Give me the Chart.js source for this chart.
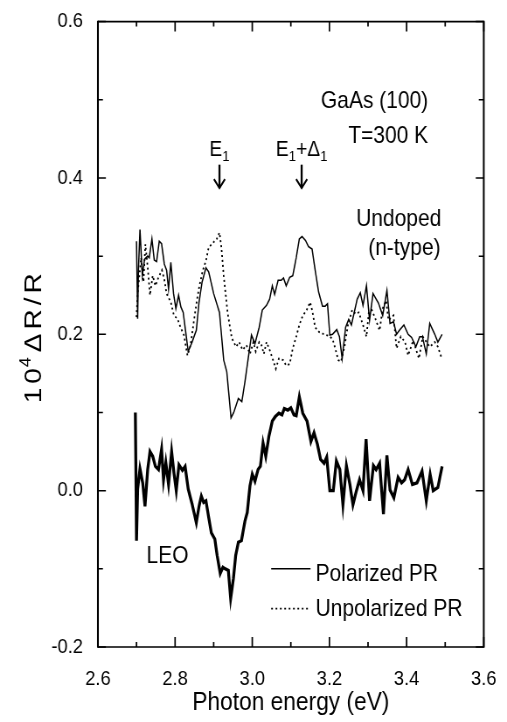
<!DOCTYPE html>
<html><head><meta charset="utf-8">
<script src="https://cdn.jsdelivr.net/npm/chart.js@4.4.0/dist/chart.umd.min.js"></script>
<style>
html,body{margin:0;padding:0;overflow:hidden;background:#fff;width:507px;height:722px}
#c{display:block;width:580px;height:722px;transform:scaleX(0.87414);transform-origin:0 0}
</style></head><body>
<canvas id="c" width="580" height="722"></canvas>
<script>
// ---- data (photon energy in eV, 10^4 dR/R) ----
const polE=[2.700,2.703,2.705,2.709,2.715,2.721,2.729,2.733,2.740,2.746,2.752,2.759,2.765,2.772,2.778,2.783,2.789,2.796,2.802,2.809,2.815,2.821,2.827,2.834,2.844,2.855,2.862,2.870,2.880,2.887,2.900,2.915,2.926,2.934,2.940,2.945,2.952,2.964,2.973,2.981,2.998,3.007,3.018,3.026,3.037,3.045,3.052,3.058,3.067,3.075,3.081,3.088,3.097,3.105,3.114,3.122,3.129,3.138,3.146,3.155,3.163,3.172,3.182,3.189,3.195,3.201,3.208,3.219,3.226,3.233,3.242,3.250,3.257,3.272,3.280,3.287,3.296,3.304,3.313,3.327,3.338,3.349,3.357,3.366,3.374,3.383,3.393,3.404,3.413,3.424,3.434,3.441,3.451,3.460,3.473,3.481,3.492];
const polR=[0.319,0.220,0.282,0.334,0.275,0.296,0.300,0.298,0.322,0.295,0.293,0.319,0.316,0.290,0.282,0.258,0.292,0.252,0.233,0.250,0.235,0.228,0.205,0.178,0.190,0.205,0.241,0.267,0.285,0.280,0.252,0.228,0.167,0.152,0.120,0.093,0.100,0.118,0.114,0.139,0.199,0.188,0.209,0.231,0.237,0.245,0.262,0.251,0.269,0.269,0.272,0.262,0.273,0.275,0.298,0.322,0.325,0.320,0.312,0.309,0.282,0.254,0.236,0.236,0.239,0.199,0.200,0.206,0.197,0.169,0.209,0.219,0.212,0.245,0.253,0.237,0.262,0.218,0.252,0.240,0.224,0.256,0.214,0.216,0.200,0.206,0.212,0.200,0.196,0.184,0.197,0.197,0.175,0.214,0.200,0.190,0.200];

const unpolE=[2.700,2.703,2.712,2.718,2.723,2.729,2.735,2.742,2.749,2.757,2.766,2.772,2.778,2.789,2.797,2.806,2.814,2.823,2.832,2.840,2.849,2.857,2.863,2.872,2.880,2.887,2.900,2.908,2.915,2.920,2.926,2.936,2.947,2.958,2.966,2.975,2.985,2.994,3.003,3.009,3.018,3.024,3.030,3.037,3.045,3.054,3.061,3.069,3.080,3.088,3.097,3.105,3.114,3.122,3.131,3.141,3.150,3.156,3.163,3.173,3.186,3.199,3.208,3.215,3.223,3.230,3.239,3.248,3.259,3.268,3.276,3.287,3.296,3.302,3.310,3.319,3.330,3.338,3.347,3.353,3.366,3.374,3.385,3.396,3.404,3.417,3.432,3.442,3.460,3.473,3.481,3.492];
const unpolR=[0.222,0.252,0.298,0.267,0.315,0.286,0.250,0.275,0.262,0.273,0.282,0.270,0.252,0.241,0.224,0.220,0.209,0.199,0.173,0.186,0.218,0.245,0.262,0.282,0.294,0.311,0.318,0.322,0.330,0.311,0.275,0.228,0.195,0.184,0.190,0.180,0.186,0.175,0.190,0.178,0.190,0.186,0.175,0.190,0.180,0.167,0.156,0.169,0.167,0.160,0.162,0.182,0.197,0.212,0.224,0.231,0.241,0.229,0.209,0.203,0.200,0.198,0.194,0.182,0.167,0.165,0.184,0.212,0.231,0.226,0.228,0.212,0.197,0.228,0.231,0.220,0.205,0.233,0.243,0.218,0.224,0.182,0.197,0.190,0.173,0.192,0.169,0.197,0.184,0.190,0.184,0.168];

const leoE=[2.697,2.700,2.703,2.709,2.716,2.722,2.729,2.735,2.742,2.749,2.757,2.765,2.770,2.776,2.783,2.791,2.797,2.803,2.810,2.819,2.826,2.834,2.844,2.855,2.862,2.868,2.874,2.880,2.887,2.894,2.903,2.909,2.917,2.924,2.930,2.938,2.944,2.951,2.957,2.964,2.972,2.981,2.987,2.994,3.000,3.007,3.015,3.021,3.028,3.035,3.043,3.052,3.060,3.069,3.077,3.083,3.092,3.100,3.108,3.114,3.122,3.131,3.142,3.152,3.160,3.169,3.177,3.186,3.193,3.201,3.210,3.218,3.227,3.235,3.244,3.253,3.261,3.270,3.278,3.287,3.295,3.304,3.314,3.321,3.330,3.340,3.349,3.357,3.367,3.378,3.387,3.395,3.404,3.415,3.427,3.440,3.451,3.461,3.469,3.481,3.492];
const leoR=[0.100,-0.064,0.002,0.028,0.010,-0.020,0.027,0.050,0.044,0.031,0.027,0.053,0.014,0.036,0.008,0.050,0.023,0.000,0.033,0.026,0.031,0.002,-0.017,-0.041,-0.020,-0.007,-0.015,-0.013,-0.034,-0.054,-0.062,-0.083,-0.106,-0.098,-0.100,-0.102,-0.138,-0.113,-0.083,-0.066,-0.064,-0.039,-0.028,0.006,0.021,0.012,0.027,0.031,0.061,0.044,0.069,0.089,0.095,0.099,0.097,0.105,0.103,0.106,0.097,0.096,0.120,0.099,0.089,0.063,0.074,0.059,0.040,0.035,0.043,0.000,0.000,0.038,0.027,-0.018,0.032,0.008,-0.018,0.000,0.014,0.000,0.066,-0.013,0.032,0.027,0.035,-0.030,0.045,0.001,-0.009,0.017,0.010,0.014,0.027,0.008,0.010,0.025,-0.013,0.021,0.000,0.004,0.031];

const xTicks=[2.6,2.8,3.0,3.2,3.4,3.6];
const xTickLabels=['2.6','2.8','3.0','3.2','3.4','3.6'];
const xMinorTicks=[2.7,2.9,3.1,3.3,3.5];
const yTicks=[-0.2,0.0,0.2,0.4,0.6];
const yTickLabels=['-0.2','0.0','0.2','0.4','0.6'];
const yMinorTicks=[-0.1,0.1,0.3,0.5];
const seriesNames=['Polarized PR','Unpolarized PR'];

const SX=0.87414; // horizontal squeeze of the canvas (narrow type)
const FONT="'Liberation Sans', Arial, sans-serif";

function pts(E,R){return E.map((e,i)=>({x:e,y:R[i]}));}

const framePlugin={
  id:'frame',
  afterDraw(chart){
    const {ctx,chartArea:a,scales:{x,y}}=chart;
    ctx.save();
    ctx.strokeStyle='#000';
    ctx.lineWidth=1.7;
    ctx.beginPath();
    ctx.moveTo(a.left,a.top);ctx.lineTo(a.right,a.top);
    ctx.moveTo(a.left,a.bottom);ctx.lineTo(a.right,a.bottom);
    ctx.stroke();
    ctx.lineWidth=1.8/SX;
    ctx.beginPath();
    ctx.moveTo(a.left,a.top-0.85);ctx.lineTo(a.left,a.bottom+0.85);
    ctx.moveTo(a.right,a.top-0.85);ctx.lineTo(a.right,a.bottom+0.85);
    ctx.stroke();
    ctx.beginPath();
    ctx.lineWidth=1.5/SX;
    const xt=(v,len)=>{const p=x.getPixelForValue(v);ctx.moveTo(p,a.bottom);ctx.lineTo(p,a.bottom-len);ctx.moveTo(p,a.top);ctx.lineTo(p,a.top+len);};
    xTicks.forEach(v=>xt(v,10)); xMinorTicks.forEach(v=>xt(v,5));
    ctx.stroke();
    ctx.beginPath();
    ctx.lineWidth=1.5;
    const yt=(v,len)=>{const p=y.getPixelForValue(v);const l=len/SX;ctx.moveTo(a.left,p);ctx.lineTo(a.left+l,p);ctx.moveTo(a.right,p);ctx.lineTo(a.right-l,p);};
    yTicks.forEach(v=>yt(v,8)); yMinorTicks.forEach(v=>yt(v,5));
    ctx.stroke();
    ctx.restore();
  }
};

function drawPieces(ctx,pieces,x,y,align){
  let w=0;
  pieces.forEach(p=>{ctx.font=p.size+'px '+FONT;p.w=ctx.measureText(p.t).width+(p.sp||0);w+=p.w;});
  let cx = align==='center'? x-w/2 : (align==='right'? x-w : x);
  ctx.textAlign='left';
  pieces.forEach(p=>{ctx.font=p.size+'px '+FONT;ctx.fillText(p.t,cx,y+(p.dy||0));cx+=p.w;});
}

const annoPlugin={
  id:'anno',
  afterDraw(chart){
    const {ctx,chartArea:a,scales:{x,y}}=chart;
    const X=v=>x.getPixelForValue(v), Y=v=>y.getPixelForValue(v);
    ctx.save();
    ctx.fillStyle='#000'; ctx.strokeStyle='#000';
    ctx.textBaseline='alphabetic';
    ctx.font='24px '+FONT;
    ctx.textAlign='right';
    ctx.fillText('GaAs (100)',X(3.456),Y(0.49));
    ctx.fillText('T=300 K',X(3.456),Y(0.445));
    ctx.fillText('Undoped',X(3.49),Y(0.338));
    ctx.fillText('(n-type)',X(3.488),Y(0.302));
    ctx.textAlign='left';
    ctx.fillText('LEO',X(2.726),Y(-0.092));
    drawPieces(ctx,[{t:'E',size:22},{t:'1',size:15,dy:5}],X(2.915),Y(0.428),'center');
    drawPieces(ctx,[{t:'E',size:22},{t:'1',size:15,dy:5},{t:'+Δ',size:22},{t:'1',size:15,dy:5}],X(3.128),Y(0.428),'center');
    [2.915,3.128].forEach(e=>{
      const px=X(e), y0=Y(0.417), y1=Y(0.387);
      ctx.lineWidth=2/SX;
      ctx.beginPath();
      ctx.moveTo(px,y0);ctx.lineTo(px,y1);
      ctx.stroke();
      ctx.lineWidth=2;
      ctx.beginPath();
      ctx.moveTo(px-5.5/SX,y1-9);ctx.lineTo(px,y1);ctx.lineTo(px+5.5/SX,y1-9);
      ctx.stroke();
    });
    const ds=chart.data.datasets;
    [[0,-0.100,-0.115],[1,-0.151,-0.160]].forEach(([i,ly,ty])=>{
      const d=ds[i];
      ctx.lineWidth=d.borderWidth;
      ctx.setLineDash(d.borderDash||[]);
      ctx.beginPath();ctx.moveTo(X(3.049),Y(ly));ctx.lineTo(X(3.151),Y(ly));ctx.stroke();
      ctx.setLineDash([]);
      ctx.font='24px '+FONT;ctx.textAlign='left';
      ctx.fillText(d.label,X(3.164),Y(ty));
    });
    // y axis title
    ctx.translate(37,(a.top+a.bottom)/2+4);
    ctx.rotate(-Math.PI/2);
    drawPieces(ctx,[{t:'1',size:28,sp:4},{t:'0',size:28,sp:1},{t:'4',size:18,dy:-12,sp:5},{t:'Δ',size:28,sp:4},{t:'R',size:28,sp:4},{t:'/',size:28,sp:4},{t:'R',size:28}],0,10,'center');
    ctx.restore();
  }
};

new Chart(document.getElementById('c'),{
  type:'line',
  data:{datasets:[
    {label:seriesNames[0],data:pts(polE,polR),borderColor:'#000',borderWidth:1.5,pointRadius:0,tension:0,fill:false},
    {label:seriesNames[1],data:pts(unpolE,unpolR),borderColor:'#000',borderWidth:1.8,borderDash:[2,3],pointRadius:0,tension:0,fill:false},
    {label:'LEO',data:pts(leoE,leoR),borderColor:'#000',borderWidth:3.3,pointRadius:0,tension:0,fill:false}
  ]},
  options:{
    responsive:false,devicePixelRatio:1,animation:false,
    layout:{padding:{left:0,right:22,top:18,bottom:0}},
    plugins:{legend:{display:false},tooltip:{enabled:false}},
    scales:{
      x:{type:'linear',min:2.6,max:3.6,
        afterBuildTicks(s){s.ticks=xTicks.map(v=>({value:v}));},
        afterFit(s){s.height=75;},
        grid:{display:false},border:{display:false},
        ticks:{autoSkip:false,maxRotation:0,padding:12,color:'#000',font:{family:FONT,size:21},callback:(v,i)=>xTickLabels[i]},
        title:{display:true,text:'Photon energy (eV)',color:'#000',font:{family:FONT,size:26},padding:{top:0,bottom:4}}
      },
      y:{type:'linear',min:-0.2,max:0.6,
        afterBuildTicks(s){s.ticks=yTicks.map(v=>({value:v}));},
        afterFit(s){s.width=112;},
        grid:{display:false},border:{display:false},
        ticks:{autoSkip:false,padding:9,color:'#000',font:{family:FONT,size:21},callback:(v,i)=>yTickLabels[i]}
      }
    }
  },
  plugins:[framePlugin,annoPlugin]
});
</script>
</body></html>
